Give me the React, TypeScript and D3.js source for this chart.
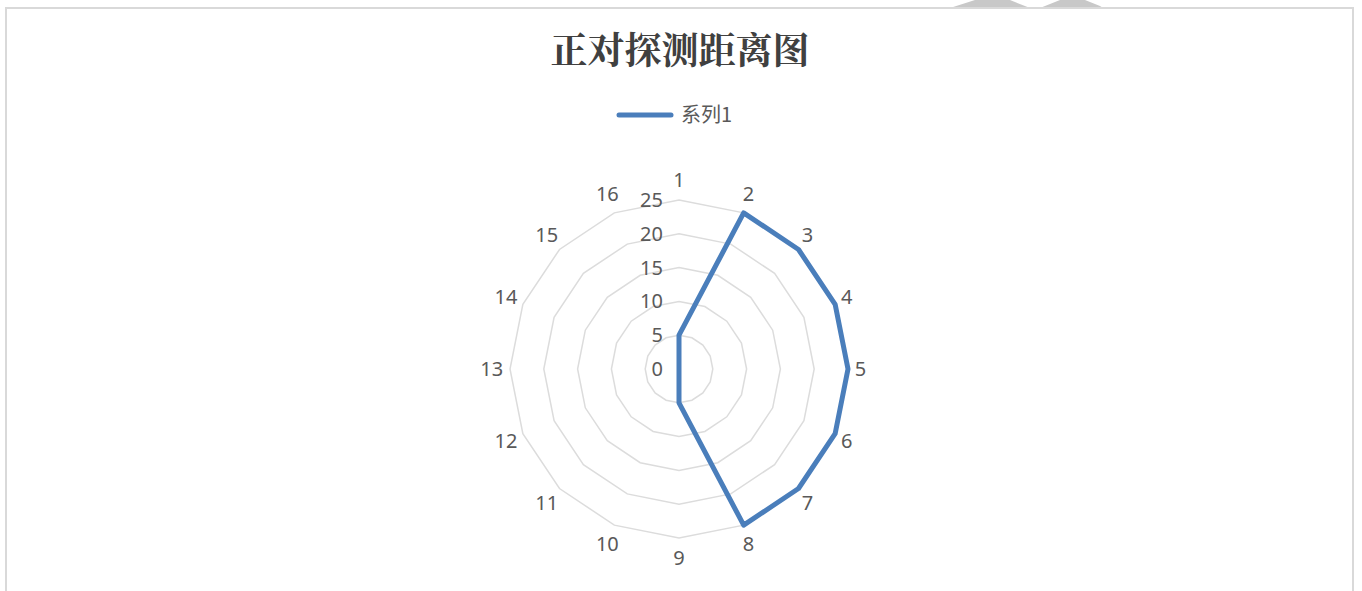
import * as React from "react";
import * as d3 from "d3";

const categories = ["1", "2", "3", "4", "5", "6", "7", "8", "9", "10", "11", "12", "13", "14", "15", "16"];
const series1 = [5, 25, 25, 25, 25, 25, 25, 25, 5, 0, 0, 0, 0, 0, 0, 0];
const ticks = [0, 5, 10, 15, 20, 25];

const W = 1362;
const H = 591;
const cx = 679;
const cy = 369;
const R = 169;

export default function App() {
  const r = d3.scaleLinear().domain([0, 25]).range([0, R]);
  const angle = (i: number) => (i * 2 * Math.PI) / categories.length;

  const ring = d3
    .lineRadial<number>()
    .angle((_, i) => angle(i))
    .radius((d) => r(d))
    .curve(d3.curveLinearClosed);

  const seriesLine = d3
    .lineRadial<number>()
    .angle((_, i) => angle(i))
    .radius((d) => r(d))
    .curve(d3.curveLinearClosed);

  const labelFont = "'Noto Sans', 'Noto Sans CJK SC', sans-serif";
  const fs = 20;

  return (
    <svg
      width={W}
      height={H}
      style={{ position: "absolute", left: 0, top: 0, background: "#fff" }}
    >
      {/* watermark blob at top */}
      <path d="M950,8 L975,0 L1010,0 L1030,8 Z" fill="#c8c8c8" />
      <path d="M1040,8 L1060,0 L1085,0 L1100,6 L1103,8 Z" fill="#c8c8c8" />
      {/* frame */}
      <rect x={6} y={8} width={1347} height={600} fill="none" stroke="#d9d9d9" strokeWidth={2} />

      <text
        x={680}
        y={64}
        textAnchor="middle"
        fontFamily="'Noto Serif CJK SC', 'Noto Sans CJK SC', serif"
        fontWeight="bold"
        fontSize={37}
        fill="#404040"
      >
        正对探测距离图
      </text>

      <line x1={619} x2={671} y1={115} y2={115} stroke="#4a7ebb" strokeWidth={5} strokeLinecap="round" />
      <text x={681} y={122} fontFamily="'Noto Sans CJK SC', sans-serif" fontSize={20} fill="#595959">
        系列1
      </text>

      <g transform={`translate(${cx},${cy})`}>
        {ticks.slice(1).map((t) => (
          <path
            key={t}
            d={ring(categories.map(() => t)) || ""}
            fill="none"
            stroke="#dcdcdc"
            strokeWidth={1.5}
          />
        ))}
        {ticks.map((t) => (
          <text
            key={t}
            x={-16}
            y={-r(t)}
            dy="0.35em"
            textAnchor="end"
            fontFamily={labelFont}
            fontSize={fs}
            fill="#595959"
          >
            {t}
          </text>
        ))}
        {categories.map((c, i) => {
          const a = angle(i);
          const s = Math.sin(a);
          const co = Math.cos(a);
          const edge = R + 7;
          const w = c.length * fs * 0.56;
          return (
            <text
              key={c}
              x={edge * s + (s * w) / 2}
              y={-edge * co - co * 13}
              dy="0.35em"
              textAnchor="middle"
              fontFamily={labelFont}
              fontSize={fs}
              fill="#595959"
            >
              {c}
            </text>
          );
        })}
        <path
          d={seriesLine(series1) || ""}
          fill="none"
          stroke="#4a7ebb"
          strokeWidth={5}
          strokeLinejoin="round"
        />
      </g>
    </svg>
  );
}
